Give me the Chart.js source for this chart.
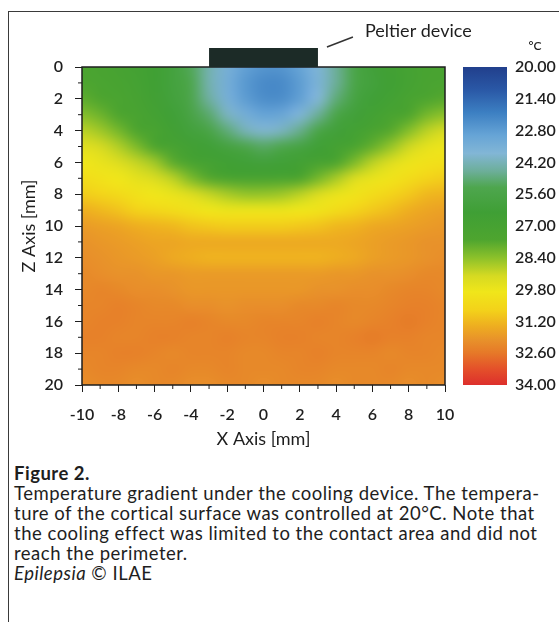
<!DOCTYPE html>
<html>
<head>
<meta charset="utf-8">
<script src="https://cdn.jsdelivr.net/npm/chart.js@4.4.1/dist/chart.umd.min.js"></script>
<style>
  html, body { margin: 0; padding: 0; background: #fff; }
  body { width: 559px; height: 622px; position: relative; overflow: hidden; font-family: Lato, sans-serif; color: #1e1e1e; }
  #frame { position: absolute; left: 8px; top: 11px; width: 600px; height: 700px; border: 1.5px solid #3a3a3a; }
  #wrap { position: absolute; left: 0; top: 0; width: 559px; height: 460px; }
  #caption { position: absolute; left: 14px; top: 463px; font-size: 18.5px; line-height: 20px; letter-spacing: 0.5px; white-space: nowrap; }
</style>
</head>
<body>
<div id="frame"></div>
<div id="wrap"><canvas id="chart"></canvas></div>
<div id="caption">
<b>Figure 2.</b><br>
Temperature gradient under the cooling device. The tempera-<br>
ture of the cortical surface was controlled at 20°C. Note that<br>
the cooling effect was limited to the contact area and did not<br>
reach the perimeter.<br>
<i>Epilepsia</i> © ILAE
</div>
<script>
// grid nodes (mm)
const xPositions = [-10, -9, -8, -7, -6, -5, -4, -3, -2, -1, 0, 1, 2, 3, 4, 5, 6, 7, 8, 9, 10]
const zDepths = [0, 1, 2, 3, 4, 5, 6, 7, 8, 9, 10, 11, 12, 13, 14, 15, 16, 17, 18, 19, 20]

// temperature (°C), one row per depth
const z0 = [27.4, 27.2, 27.0, 26.8, 26.5, 26.0, 25.2, 24.3, 23.5, 22.9, 22.6, 22.6, 23.0, 23.7, 24.6, 25.5, 26.2, 26.6, 26.9, 27.1, 27.2]
const z1 = [27.5, 27.3, 27.1, 26.9, 26.5, 26.0, 25.3, 24.3, 23.4, 22.7, 22.3, 22.3, 22.8, 23.6, 24.6, 25.5, 26.1, 26.5, 26.9, 27.2, 27.3]
const z2 = [27.8, 27.6, 27.3, 27.0, 26.6, 26.1, 25.4, 24.5, 23.5, 22.8, 22.4, 22.4, 22.9, 23.8, 24.9, 25.8, 26.3, 26.7, 27.1, 27.5, 27.7]
const z3 = [28.3, 28.0, 27.6, 27.2, 26.8, 26.3, 25.7, 25.0, 24.1, 23.4, 23.0, 23.1, 23.7, 24.6, 25.5, 26.2, 26.7, 27.1, 27.6, 28.1, 28.4]
const z4 = [28.9, 28.6, 28.1, 27.6, 27.1, 26.6, 26.1, 25.6, 24.9, 24.2, 23.9, 24.1, 24.7, 25.5, 26.2, 26.7, 27.2, 27.7, 28.3, 28.9, 29.2]
const z5 = [29.5, 29.2, 28.8, 28.2, 27.6, 27.0, 26.6, 26.3, 25.9, 25.4, 25.1, 25.3, 25.8, 26.3, 26.8, 27.3, 27.9, 28.5, 29.1, 29.6, 29.8]
const z6 = [29.9, 29.7, 29.4, 29.0, 28.6, 27.8, 27.1, 26.8, 26.5, 26.3, 26.2, 26.3, 26.6, 27.0, 27.5, 28.2, 28.9, 29.4, 29.8, 30.1, 30.2]
const z7 = [30.3, 30.1, 29.9, 29.6, 29.3, 28.9, 28.2, 27.7, 27.4, 27.2, 27.2, 27.3, 27.6, 28.1, 28.7, 29.3, 29.7, 30.0, 30.3, 30.6, 30.8]
const z8 = [30.8, 30.6, 30.4, 30.1, 29.9, 29.7, 29.4, 29.0, 28.7, 28.5, 28.5, 28.6, 28.9, 29.3, 29.7, 30.0, 30.3, 30.6, 30.9, 31.2, 31.3]
const z9 = [31.4, 31.2, 31.0, 30.7, 30.5, 30.3, 30.1, 29.9, 29.8, 29.8, 29.8, 29.8, 29.9, 30.0, 30.3, 30.6, 30.9, 31.1, 31.4, 31.6, 31.7]
const z10 = [31.8, 31.7, 31.6, 31.4, 31.3, 31.2, 31.0, 30.9, 30.8, 30.8, 30.8, 30.8, 30.9, 31.0, 31.2, 31.3, 31.5, 31.6, 31.7, 31.8, 31.9]
const z11 = [32.0, 31.9, 31.8, 31.7, 31.6, 31.6, 31.5, 31.5, 31.5, 31.5, 31.5, 31.5, 31.5, 31.5, 31.5, 31.6, 31.7, 31.8, 31.9, 32.0, 32.0]
const z12 = [32.1, 32.0, 31.9, 31.8, 31.7, 31.5, 31.4, 31.3, 31.3, 31.3, 31.3, 31.3, 31.3, 31.3, 31.4, 31.5, 31.7, 31.8, 31.9, 32.0, 32.1]
const z13 = [32.2, 32.1, 32.0, 32.0, 31.9, 31.9, 31.8, 31.8, 31.8, 31.8, 31.8, 31.8, 31.8, 31.8, 31.9, 31.9, 32.0, 32.0, 32.1, 32.2, 32.2]
const z14 = [32.2, 32.3, 32.2, 32.1, 32.1, 32.0, 31.9, 31.9, 31.9, 31.9, 31.9, 31.9, 31.9, 32.0, 32.0, 32.1, 32.1, 32.2, 32.3, 32.3, 32.2]
const z15 = [32.3, 32.3, 32.4, 32.3, 32.2, 32.2, 32.1, 32.1, 32.0, 32.1, 32.1, 32.1, 32.2, 32.2, 32.3, 32.2, 32.2, 32.3, 32.4, 32.4, 32.3]
const z16 = [32.3, 32.4, 32.4, 32.3, 32.3, 32.3, 32.4, 32.3, 32.2, 32.2, 32.3, 32.3, 32.3, 32.4, 32.3, 32.2, 32.3, 32.4, 32.5, 32.4, 32.3]
const z17 = [32.4, 32.4, 32.3, 32.3, 32.4, 32.4, 32.3, 32.3, 32.4, 32.3, 32.3, 32.4, 32.4, 32.3, 32.3, 32.4, 32.5, 32.4, 32.4, 32.3, 32.3]
const z18 = [32.3, 32.3, 32.4, 32.4, 32.3, 32.2, 32.3, 32.3, 32.3, 32.2, 32.2, 32.3, 32.3, 32.4, 32.3, 32.3, 32.3, 32.2, 32.3, 32.3, 32.2]
const z19 = [32.2, 32.3, 32.3, 32.2, 32.2, 32.3, 32.2, 32.2, 32.3, 32.2, 32.2, 32.2, 32.3, 32.3, 32.2, 32.2, 32.2, 32.3, 32.2, 32.2, 32.2]
const z20 = [32.1, 32.2, 32.2, 32.1, 32.2, 32.2, 32.1, 32.1, 32.2, 32.2, 32.1, 32.2, 32.2, 32.2, 32.1, 32.2, 32.2, 32.2, 32.1, 32.2, 32.1]
const temperature = [z0, z1, z2, z3, z4, z5, z6, z7, z8, z9, z10, z11, z12, z13, z14, z15, z16, z17, z18, z19, z20]

const xTicks = [-10, -8, -6, -4, -2, 0, 2, 4, 6, 8, 10]
const zTicks = [0, 2, 4, 6, 8, 10, 12, 14, 16, 18, 20]
const colorTicks = [20, 21.4, 22.8, 24.2, 25.6, 27, 28.4, 29.8, 31.2, 32.6, 34]
const deviceSpan = [-3, 3]

// colour scale of the legend bar
const stopValues = [20.0, 21.0, 22.0, 23.0, 23.8, 24.6, 25.3, 26.4, 27.6, 28.4, 29.2, 29.9, 30.7, 31.4, 32.0, 32.6, 33.3, 34.0]
const stopColors = ["#213f8c", "#2a58a6", "#3c7fc2", "#66a4d6", "#82b6d6", "#6cae98", "#4ea64e", "#3f9f35", "#4ea52f",
  "#8cc12a", "#d6da22", "#f0e61a", "#f3d21a", "#eeae20", "#e8922a", "#e67828", "#e4502a", "#dd2f2c"]

function hex2rgb(h) {
  return [1, 3, 5].map((i) => parseInt(h.substr(i, 2), 16))
}

function tempColor(t) {
  if (t <= stopValues[0]) return hex2rgb(stopColors[0])
  for (let i = 1; i < stopValues.length; i++) {
    if (t <= stopValues[i]) {
      const f = (t - stopValues[i - 1]) / (stopValues[i] - stopValues[i - 1])
      const a = hex2rgb(stopColors[i - 1]), b = hex2rgb(stopColors[i])
      return a.map((v, k) => Math.round(v + (b[k] - v) * f))
    }
  }
  return hex2rgb(stopColors[stopColors.length - 1])
}

const cells = []
zDepths.forEach((z, r) => xPositions.forEach((x, c) => cells.push({ x: x, y: z, v: temperature[r][c] })))

const ink = "#1e1e1e"
const tickFont = { family: "Lato", size: 16, weight: 600 }
const titleFont = { family: "Lato", size: 18 }

// no extra room for overhanging tick labels, the plot box is fixed
function noPad(s) {
  s.paddingTop = 0
  s.paddingBottom = 0
  s.paddingLeft = 0
  s.paddingRight = 0
}

const heatmap = {
  id: "heatmap",
  beforeDatasetsDraw(chart) {
    const { ctx, chartArea: a, scales: { x, y } } = chart
    const cols = xPositions.length, rows = zDepths.length
    const off = document.createElement("canvas")
    off.width = cols
    off.height = rows
    const octx = off.getContext("2d")
    const img = octx.createImageData(cols, rows)
    chart.data.datasets[0].data.forEach((p) => {
      const c = xPositions.indexOf(p.x), r = zDepths.indexOf(p.y)
      const rgb = tempColor(p.v)
      const k = (r * cols + c) * 4
      img.data[k] = rgb[0]
      img.data[k + 1] = rgb[1]
      img.data[k + 2] = rgb[2]
      img.data[k + 3] = 255
    })
    octx.putImageData(img, 0, 0)
    // cells are centred on the nodes, so stretch by half a cell each side
    const left = x.getPixelForValue(xPositions[0] - 0.5)
    const right = x.getPixelForValue(xPositions[cols - 1] + 0.5)
    const top = y.getPixelForValue(zDepths[0] - 0.5)
    const bottom = y.getPixelForValue(zDepths[rows - 1] + 0.5)
    ctx.save()
    ctx.beginPath()
    ctx.rect(a.left, a.top, a.right - a.left, a.bottom - a.top)
    ctx.clip()
    ctx.imageSmoothingEnabled = true
    ctx.imageSmoothingQuality = "high"
    ctx.drawImage(off, left, top, right - left, bottom - top)
    ctx.restore()
  },
  afterDraw(chart) {
    const { ctx, chartArea: a, scales: { x, y, y2 } } = chart
    ctx.save()
    // frame
    ctx.strokeStyle = ink
    ctx.lineWidth = 1.5
    ctx.strokeRect(a.left, a.top, a.right - a.left, a.bottom - a.top)
    // minor ticks
    ctx.lineWidth = 1
    ctx.beginPath()
    for (let v = -9; v <= 9; v += 2) {
      const px = x.getPixelForValue(v)
      ctx.moveTo(px, a.bottom)
      ctx.lineTo(px, a.bottom + 4)
    }
    for (let v = 1; v <= 19; v += 2) {
      const py = y.getPixelForValue(v)
      ctx.moveTo(a.left, py)
      ctx.lineTo(a.left - 4, py)
    }
    ctx.stroke()

    // Peltier device
    const dl = x.getPixelForValue(deviceSpan[0]), dr = x.getPixelForValue(deviceSpan[1])
    ctx.fillStyle = "#1c2b27"
    ctx.fillRect(dl, a.top - 19, dr - dl, 19)
    ctx.strokeStyle = "#333"
    ctx.lineWidth = 1.5
    ctx.beginPath()
    ctx.moveTo(dr + 9, a.top - 20)
    ctx.lineTo(dr + 35, a.top - 30)
    ctx.stroke()
    ctx.fillStyle = ink
    ctx.font = "18px Lato"
    ctx.textAlign = "left"
    ctx.textBaseline = "alphabetic"
    ctx.fillText("Peltier device", dr + 47, a.top - 30)

    // colour bar
    const ct = y2.getPixelForValue(colorTicks[0])
    const cbm = y2.getPixelForValue(colorTicks[colorTicks.length - 1])
    const g = ctx.createLinearGradient(0, ct, 0, cbm)
    stopValues.forEach((v, i) => g.addColorStop((y2.getPixelForValue(v) - ct) / (cbm - ct), stopColors[i]))
    ctx.fillStyle = g
    ctx.fillRect(a.right + 18, ct, 44, cbm - ct)
    ctx.fillStyle = ink
    ctx.font = "600 12px Lato"
    ctx.textAlign = "center"
    ctx.fillText("°C", a.right + 90, a.top - 17)
    ctx.restore()
  },
}

new Chart(document.getElementById("chart"), {
  type: "scatter",
  data: {
    datasets: [{ label: "Temperature [°C]", data: cells, pointRadius: 0, pointHoverRadius: 0 }],
  },
  options: {
    responsive: true,
    maintainAspectRatio: false,
    animation: false,
    events: [],
    layout: { padding: { top: 67, right: 0, bottom: 0, left: 0 } },
    plugins: { legend: { display: false }, tooltip: { enabled: false } },
    scales: {
      x: {
        type: "linear",
        min: -10,
        max: 10,
        afterBuildTicks: (s) => { s.ticks = xTicks.map((v) => ({ value: v })) },
        afterFit: (s) => { s.height = 75; noPad(s) },
        grid: { drawOnChartArea: false, tickLength: 7, tickColor: ink },
        border: { display: false },
        ticks: { padding: 13, color: ink, font: tickFont, maxRotation: 0, autoSkip: false },
        title: { display: true, text: "X Axis [mm]", color: ink, font: titleFont, padding: { top: 0, bottom: 10 } },
      },
      y: {
        type: "linear",
        min: 0,
        max: 20,
        reverse: true,
        afterBuildTicks: (s) => { s.ticks = zTicks.map((v) => ({ value: v })) },
        afterFit: (s) => { s.width = 82; noPad(s) },
        grid: { drawOnChartArea: false, tickLength: 7, tickColor: ink },
        border: { display: false },
        ticks: { padding: 12, color: ink, font: tickFont, autoSkip: false },
        title: { display: true, text: "Z Axis [mm]", color: ink, font: titleFont, padding: { top: 18, bottom: 0 } },
      },
      y2: {
        type: "linear",
        position: "right",
        min: 20,
        max: 34,
        reverse: true,
        afterBuildTicks: (s) => { s.ticks = colorTicks.map((v) => ({ value: v })) },
        afterFit: (s) => { s.width = 114; noPad(s) },
        grid: { display: false, drawTicks: false },
        border: { display: false },
        ticks: { padding: 70, color: ink, font: tickFont, autoSkip: false, callback: (v) => v.toFixed(2) },
      },
    },
  },
  plugins: [heatmap],
})
</script>
</body>
</html>
